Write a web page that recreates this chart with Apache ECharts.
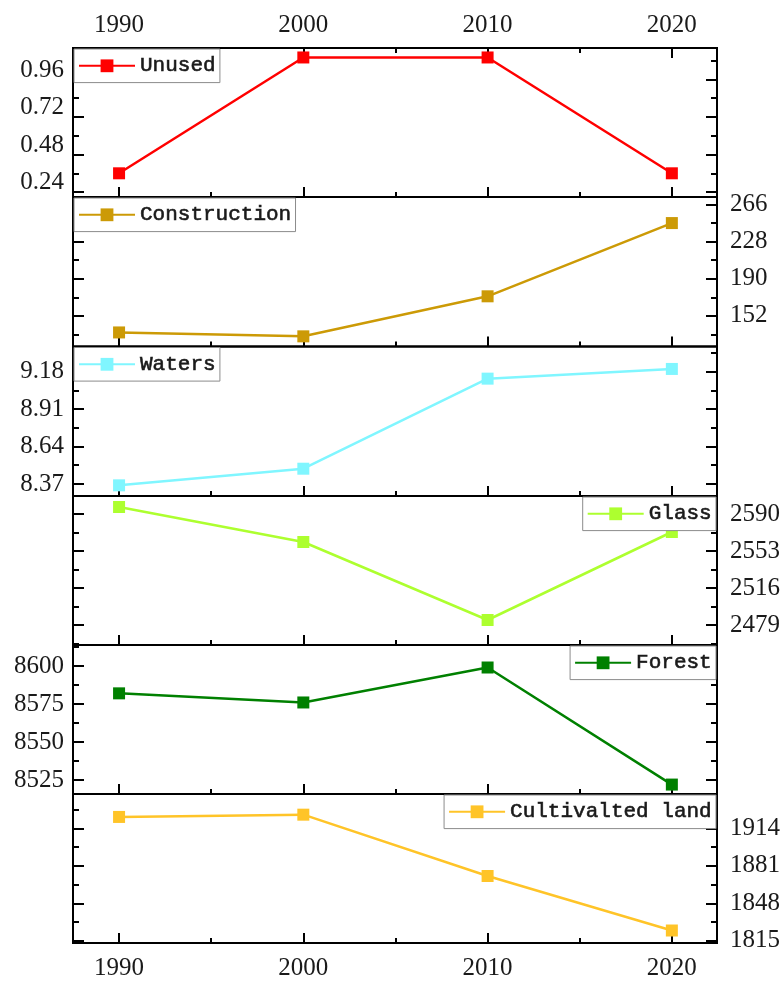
<!DOCTYPE html>
<html>
<head>
<meta charset="utf-8">
<script src="https://cdn.jsdelivr.net/npm/echarts@6/dist/echarts.min.js"></script>
<style>
html,body{margin:0;padding:0;background:#fff;}
#chart{width:783px;height:981px;}
</style>
</head>
<body>
<div id="chart"></div>
<script>
// ---- data ----
const years = [1990, 2000, 2010, 2020];
const yearMinor = [1995, 2005, 2015];

const unused = [0.30, 1.04, 1.04, 0.30];
const construction = [135, 131, 172, 247];
const waters = [8.36, 8.48, 9.13, 9.20];
const glass = [2597, 2562, 2484, 2572];
const forest = [8582, 8576, 8599, 8522];
const cultivated = [1924, 1926, 1872, 1824];

const unusedLabels = [0.24, 0.48, 0.72, 0.96];
const constructionLabels = [152, 190, 228, 266];
const watersLabels = [8.37, 8.64, 8.91, 9.18];
const glassLabels = [2479, 2516, 2553, 2590];
const forestLabels = [8525, 8550, 8575, 8600];
const cultivatedLabels = [1815, 1848, 1881, 1914];

const seriesNames = ['Unused', 'Construction', 'Waters', 'Glass', 'Forest', 'Cultivalted land'];

// ---- layout / style ----
const bounds = [48, 197, 346.5, 496, 645, 794, 943];
const xMin = 1987.5, xMax = 2022.45;
const serif = 'Liberation Serif';
const mono = 'Liberation Mono';
const txt = '#1a1a1a';

function halfTicks(labels, min, max) {
  const step = labels[1] - labels[0];
  const out = [];
  for (let v = labels[0] - step / 2; v <= max + 1e-9; v += step) {
    if (v >= min - 1e-9) out.push(+v.toFixed(4));
  }
  return out;
}

const panels = [
  {name: seriesNames[0], color: '#FF0000', data: unused, min: 0.1486, max: 1.1005,
   labels: unusedLabels, major: [0.18, 0.42, 0.66, 0.90], minor: [0.30, 0.54, 0.78, 1.02],
   side: 'left', dec: 2, legend: {left: 74}},
  {name: seriesNames[1], color: '#CC9A06', data: construction, min: 120.6, max: 273.7,
   labels: constructionLabels, side: 'right', dec: 0, legend: {left: 74}},
  {name: seriesNames[2], color: '#80F6FF', data: waters, min: 8.283, max: 9.362,
   labels: watersLabels, side: 'left', dec: 2, legend: {left: 74}},
  {name: seriesNames[3], color: '#ADFF2F', data: glass, min: 2459, max: 2608,
   labels: glassLabels, side: 'right', dec: 0, legend: {right: 67}},
  {name: seriesNames[4], color: '#008000', data: forest, min: 8515.8, max: 8613.8,
   labels: forestLabels, side: 'left', dec: 0, legend: {right: 67}},
  {name: seriesNames[5], color: '#FFC428', data: cultivated, min: 1813, max: 1944.2,
   labels: cultivatedLabels, side: 'right', dec: 0, legend: {right: 67}}
];

const grids = [], xAxes = [], yAxes = [], series = [], legends = [];
const tickStyle = {color: '#000', width: 2};
const yearFmt = v => String(Math.round(v));

panels.forEach((p, i) => {
  grids.push({left: 73, right: 66, top: bounds[i], height: bounds[i + 1] - bounds[i],
    show: true, borderColor: '#000', borderWidth: 2, backgroundColor: 'transparent', containLabel: false});

  const major = p.major || p.labels;
  const minor = p.minor || halfTicks(p.labels, p.min, p.max);

  // x axes (bottom major + minor)
  const xBase = {gridIndex: i, type: 'value', min: xMin, max: xMax,
    axisLine: {show: false, onZero: false}, splitLine: {show: false}};
  xAxes.push(Object.assign({}, xBase, {position: 'bottom',
    axisTick: {inside: true, length: 10, lineStyle: tickStyle, customValues: years},
    axisLabel: {show: i === panels.length - 1, customValues: years, margin: 13,
      fontFamily: serif, fontSize: 25, color: txt, formatter: yearFmt}}));
  xAxes.push(Object.assign({}, xBase, {position: 'bottom',
    axisTick: {inside: true, length: 5, lineStyle: tickStyle, customValues: yearMinor},
    axisLabel: {show: false}}));
  const xMainIndex = xAxes.length - 2;
  if (i === 0) {
    xAxes.push(Object.assign({}, xBase, {position: 'top',
      axisTick: {inside: true, length: 10, lineStyle: tickStyle, customValues: years},
      axisLabel: {show: true, customValues: years, margin: 10,
        fontFamily: serif, fontSize: 25, color: txt, formatter: yearFmt}}));
    xAxes.push(Object.assign({}, xBase, {position: 'top',
      axisTick: {inside: true, length: 5, lineStyle: tickStyle, customValues: yearMinor},
      axisLabel: {show: false}}));
  }

  // y axes
  const other = p.side === 'left' ? 'right' : 'left';
  const yBase = {gridIndex: i, type: 'value', min: p.min, max: p.max,
    axisLine: {show: false, onZero: false}, splitLine: {show: false}};
  const yMainIndex = yAxes.length;
  yAxes.push(Object.assign({}, yBase, {position: p.side,
    axisTick: {inside: true, length: 11, lineStyle: tickStyle, customValues: major},
    axisLabel: {show: true, customValues: p.labels, margin: p.side === 'left' ? 9 : 13,
      fontFamily: serif, fontSize: 25, color: txt,
      formatter: v => Number(v).toFixed(p.dec)}}));
  yAxes.push(Object.assign({}, yBase, {position: p.side,
    axisTick: {inside: true, length: 6, lineStyle: tickStyle, customValues: minor},
    axisLabel: {show: false}}));
  yAxes.push(Object.assign({}, yBase, {position: other,
    axisTick: {inside: true, length: 11, lineStyle: tickStyle, customValues: major},
    axisLabel: {show: false}}));
  yAxes.push(Object.assign({}, yBase, {position: other,
    axisTick: {inside: true, length: 6, lineStyle: tickStyle, customValues: minor},
    axisLabel: {show: false}}));

  series.push({type: 'line', name: p.name, xAxisIndex: xMainIndex, yAxisIndex: yMainIndex,
    data: years.map((y, j) => [y, p.data[j]]),
    symbol: 'rect', symbolSize: 12, showSymbol: true,
    lineStyle: {width: 2.5, color: p.color}, itemStyle: {color: p.color},
    z: 3, animation: false});

  legends.push(Object.assign({data: [p.name], top: bounds[i] + 1, orient: 'horizontal',
    itemWidth: 56, itemHeight: 16, padding: [6, 4, 6, 4],
    borderColor: '#8c8c8c', borderWidth: 1, backgroundColor: '#fff', borderRadius: 0,
    selectedMode: false, z: 10,
    textStyle: {fontFamily: mono, fontSize: 21, fontWeight: 'normal', color: '#1a1a1a',
      textBorderColor: '#1a1a1a', textBorderWidth: 0.6}}, p.legend));
});

const chart = echarts.init(document.getElementById('chart'), null, {renderer: 'canvas'});
chart.setOption({
  backgroundColor: '#fff',
  animation: false,
  grid: grids,
  xAxis: xAxes,
  yAxis: yAxes,
  legend: legends,
  series: series
});
</script>
</body>
</html>
